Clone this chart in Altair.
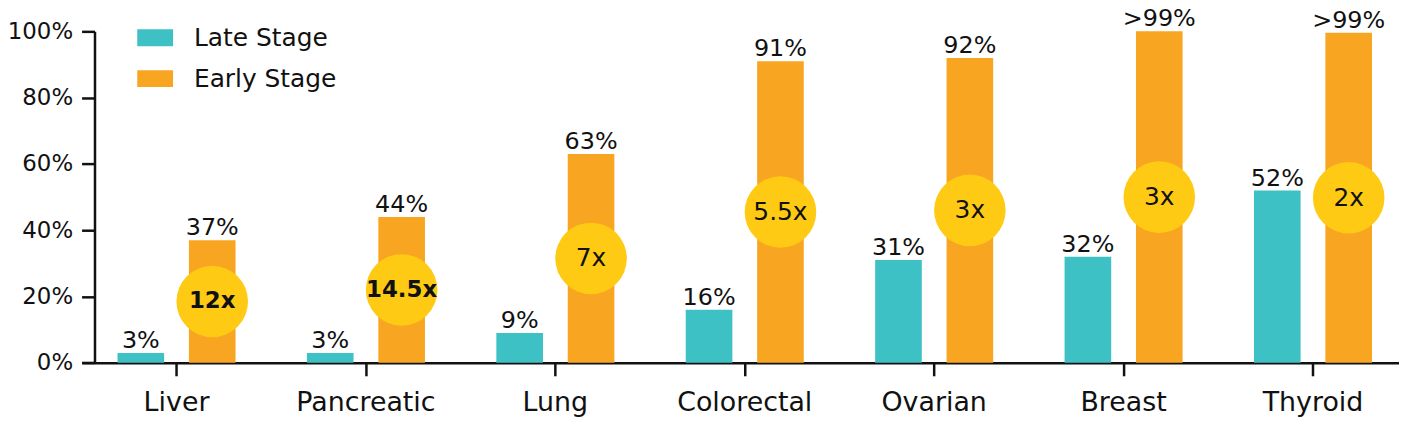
import altair as alt
import pandas as pd

categories = ["Liver", "Pancreatic", "Lung", "Colorectal", "Ovarian", "Breast", "Thyroid"]
late_values = [3, 3, 9, 16, 31, 32, 52]
early_values = [37, 44, 63, 91, 92, 100, 99.6]
late_labels = ["3%", "3%", "9%", "16%", "31%", "32%", "52%"]
early_labels = ["37%", "44%", "63%", "91%", "92%", ">99%", ">99%"]
ratio_labels = ["12x", "14.5x", "7x", "5.5x", "3x", "3x", "2x"]
ratio_bold = [True, True, False, False, False, False, False]
stages = ["Late Stage", "Early Stage"]
stage_colors = ["#3EC1C4", "#F8A521"]
circle_color = "#FFCA14"
y_ticks = list(range(0, 101, 10))

FONT = "DejaVu Sans"
INK = "#111111"

rows = []
for i, c in enumerate(categories):
    rows.append(dict(category=c, stage="Late Stage", value=late_values[i], label=late_labels[i]))
    rows.append(dict(category=c, stage="Early Stage", value=early_values[i], label=early_labels[i]))
bars_df = pd.DataFrame(rows)

circ_df = pd.DataFrame(dict(category=categories, stage=["Early Stage"] * len(categories),
                            early=early_values, ratio=ratio_labels, bold=ratio_bold))

x_enc = alt.X("category:N", sort=categories,
              scale=alt.Scale(range=[-12.75, 1320.75], paddingInner=0, paddingOuter=0),
              axis=alt.Axis(title=None, labelAngle=0, labelFont=FONT, labelFontSize=27,
                            labelColor=INK, labelPadding=14, tickSize=13, tickWidth=2.5,
                            tickColor=INK, domainColor=INK, domainWidth=2.5))
xo_enc = alt.XOffset("stage:N", sort=stages,
                     scale=alt.Scale(domain=stages, paddingInner=0.347, paddingOuter=0.5))

y_axis = alt.Axis(title=None, values=y_ticks, grid=False,
                  labelExpr="datum.value % 20 === 0 ? datum.value + '%' : ''",
                  labelFont=FONT, labelFontSize=23, labelColor=INK, labelPadding=9,
                  tickSize={"condition": {"test": "datum.value % 20 === 0", "value": 13}, "value": 8},
                  tickWidth=2.5, tickColor=INK, domainColor=INK, domainWidth=2.5)

bars = alt.Chart(bars_df).mark_bar().encode(
    x=x_enc,
    xOffset=xo_enc,
    y=alt.Y("value:Q", scale=alt.Scale(domain=[0, 100], nice=False), axis=y_axis),
    color=alt.Color("stage:N", scale=alt.Scale(domain=stages, range=stage_colors),
                    legend=alt.Legend(title=None, orient="none", legendX=43, legendY=-11.5,
                                      padding=0, symbolType="M-1,-0.472L1,-0.472L1,0.472L-1,0.472Z",
                                      symbolSize=1296, symbolStrokeWidth=0, symbolOpacity=1,
                                      labelFont=FONT, labelFontSize=25, labelColor=INK,
                                      labelOffset=21, rowPadding=10)),
)

bar_text = alt.Chart(bars_df).mark_text(baseline="alphabetic", dy=-5, font=FONT,
                                        fontSize=24, color=INK).encode(
    x=alt.X("category:N", sort=categories),
    xOffset=alt.XOffset("stage:N", sort=stages),
    y=alt.Y("value:Q"),
    text="label:N",
)

circles = alt.Chart(circ_df).transform_calculate(mid="datum.early / 2").mark_circle(
    size=5184, opacity=1, color=circle_color).encode(
    x=alt.X("category:N", sort=categories),
    xOffset=alt.XOffset("stage:N", sort=stages),
    y=alt.Y("mid:Q"),
)

circ_bold = alt.Chart(circ_df).transform_filter("datum.bold").transform_calculate(
    mid="datum.early / 2").mark_text(baseline="middle", font=FONT, fontSize=23,
                                     fontWeight="bold", color=INK).encode(
    x=alt.X("category:N", sort=categories),
    xOffset=alt.XOffset("stage:N", sort=stages),
    y=alt.Y("mid:Q"),
    text="ratio:N",
)

circ_norm = alt.Chart(circ_df).transform_filter("!datum.bold").transform_calculate(
    mid="datum.early / 2").mark_text(baseline="middle", font=FONT, fontSize=25,
                                     color=INK).encode(
    x=alt.X("category:N", sort=categories),
    xOffset=alt.XOffset("stage:N", sort=stages),
    y=alt.Y("mid:Q"),
    text="ratio:N",
)

chart = alt.layer(bars, bar_text, circles, circ_bold, circ_norm).properties(
    width=1304, height=333.4,
    autosize=alt.AutoSizeParams(type="none"),
    padding={"left": 87, "top": 22.3, "right": 8, "bottom": 59.3},
).configure_view(stroke=None)

chart.save("out.html", embed_options={"renderer": "svg", "actions": False})
